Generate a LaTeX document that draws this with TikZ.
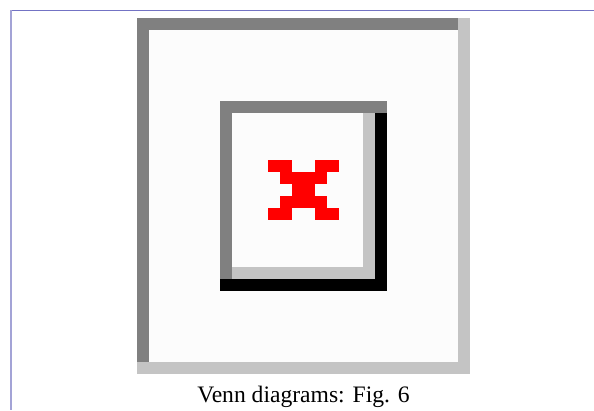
\documentclass[tikz,border=0pt]{standalone}
\usepackage{fontspec}
\setmainfont{Liberation Serif}
\usepackage{tikz}
\usetikzlibrary{positioning}
\definecolor{framedark}{HTML}{808080}
\definecolor{framelight}{HTML}{C4C4C4}
\definecolor{paperwhite}{HTML}{FCFCFC}
\definecolor{rulerblue}{HTML}{7373C4}
\definecolor{rulerpale}{HTML}{A3A3D6}
\tikzset{
  darkband/.style={fill=framedark},
  lightband/.style={fill=framelight},
  shadowband/.style={fill=black},
  paper/.style={fill=paperwhite},
  redcell/.style={fill=red},
  caption/.style={font=\fontsize{23.6}{28}\selectfont, anchor=base}
}

\begin{document}
\begin{tikzpicture}[x=1pt, y=-1pt]
  \useasboundingbox (0,0) rectangle (594,410);

  % page rulers
  \fill[rulerpale] (10,9.5) rectangle (594,10.5);
  \fill[rulerblue] (10,10.2) rectangle (594,11.2);
  \fill[rulerpale] (10,10) rectangle (12,410);

  % outer square
  \fill[lightband] (137,18) rectangle (470,374);
  \fill[darkband]  (137,18) rectangle (458,30);
  \fill[darkband]  (137,18) rectangle (149,362);
  \fill[paper]     (149,30) rectangle (458,362);

  % inner square
  \fill[shadowband] (220,101) rectangle (387,291);
  \fill[darkband]   (220,101) rectangle (387,113);
  \fill[darkband]   (220,101) rectangle (232,279);
  \fill[lightband]  (232,113) rectangle (375,279);
  \fill[paper]      (232,113) rectangle (363,267);

  % red cross, cell by cell
  \foreach \c/\r in {0/0,1/0,4/0,5/0, 1/1,2/1,3/1,4/1, 2/2,3/2,
                     1/3,2/3,3/3,4/3, 0/4,1/4,4/4,5/4}
    \fill[redcell] ({268+11.83*\c},{160+12*\r}) rectangle ++(11.83,12);

  \node[caption] (figcap) at (303.5,402) {Venn diagrams: Fig. 6};
\end{tikzpicture}
\end{document}
